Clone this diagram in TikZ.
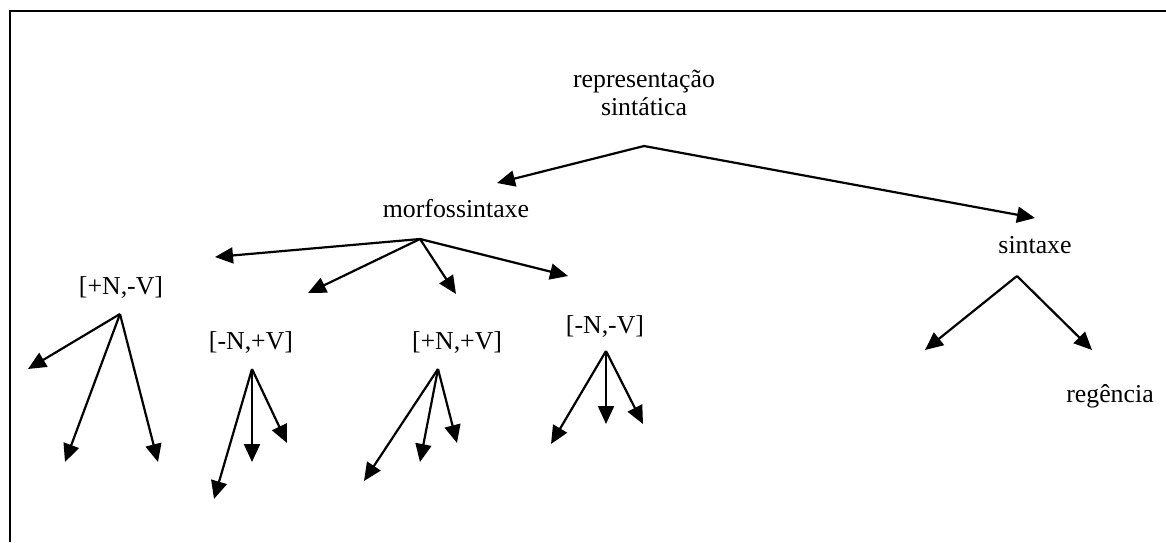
\documentclass[tikz,border=0pt]{standalone}
\usepackage{fontspec}
\setmainfont{Liberation Serif}
\usetikzlibrary{arrows.meta}
\begin{document}
\begin{tikzpicture}[x=0.5pt,y=-0.5pt,
  lbl/.style={anchor=base,inner sep=0pt,font=\fontsize{12.9pt}{14pt}\selectfont},
  branch/.style={line width=1.1pt,-{Triangle[length=9pt,width=8pt]}},
  frameline/.style={line width=1.2pt}]
\useasboundingbox (0,0) rectangle (1166,542);
% open frame: top and left edges only
\draw[frameline] (1166,11) -- (10,11) -- (10,542);

% labels (base of a two-line node is its last line)
\node[lbl,align=center] (rep) at (644,115) {representação\\sintática};
\node[lbl] (morf) at (456,217) {morfossintaxe};
\node[lbl] (sint) at (1035,253) {sintaxe};
\node[lbl] (reg)  at (1110,402) {regência};
\node[lbl] (pnmv) at (121,294) {[+N,-V]};
\node[lbl] (mnpv) at (251,349) {[-N,+V]};
\node[lbl] (pnpv) at (457,349) {[+N,+V]};
\node[lbl] (mnmv) at (605,333) {[-N,-V]};

% branching points
\coordinate (rA) at (644,146);
\coordinate (mA) at (420,239);
\coordinate (sA) at (1017,276);
\coordinate (aA) at (120,314);
\coordinate (bA) at (252,369);
\coordinate (cA) at (438,369);
\coordinate (dA) at (606,351);

% arrow ends
\coordinate (r1) at (497,183);
\coordinate (r2) at (1035,218);
\coordinate (m1) at (215,257);
\coordinate (m2) at (308,293);
\coordinate (m3) at (456,294);
\coordinate (m4) at (568,276);
\coordinate (s1) at (925,350);
\coordinate (s2) at (1092,350);
\coordinate (a1) at (28,369);
\coordinate (a2) at (65,462);
\coordinate (a3) at (158,462);
\coordinate (b1) at (214,499);
\coordinate (b2) at (252,462);
\coordinate (b3) at (287,443);
\coordinate (c1) at (364,481);
\coordinate (c2) at (420,462);
\coordinate (c3) at (457,443);
\coordinate (d1) at (551,444);
\coordinate (d2) at (606,424);
\coordinate (d3) at (643,424);

% connectors
\foreach \f/\t in {rA/r1,rA/r2,mA/m1,mA/m2,mA/m3,mA/m4,sA/s1,sA/s2,
                   aA/a1,aA/a2,aA/a3,bA/b1,bA/b2,bA/b3,
                   cA/c1,cA/c2,cA/c3,dA/d1,dA/d2,dA/d3}
  \draw[branch] (\f) -- (\t);
\end{tikzpicture}
\end{document}
